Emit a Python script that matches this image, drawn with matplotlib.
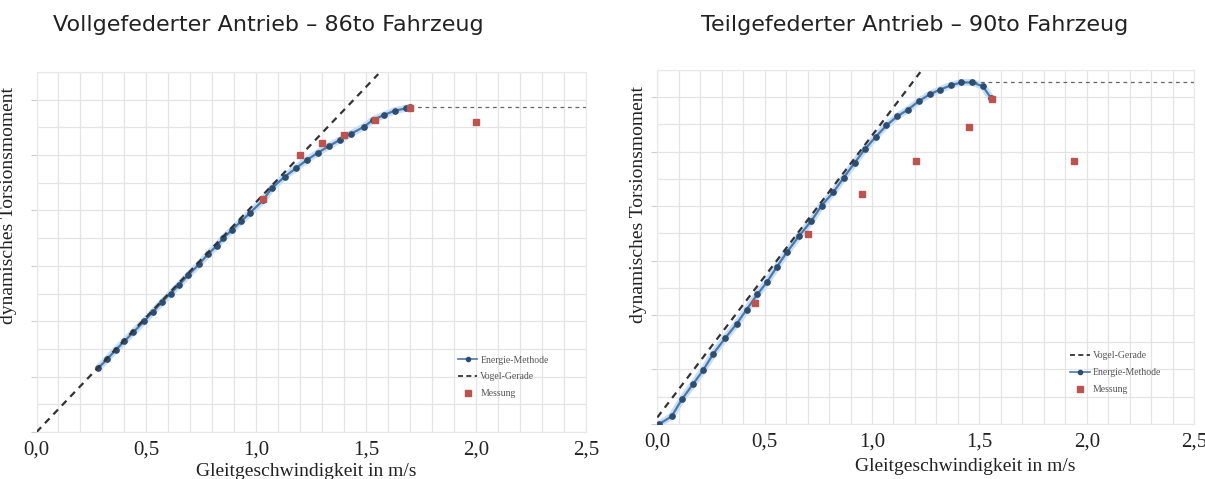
import matplotlib
matplotlib.use("Agg")
import matplotlib.pyplot as plt
from matplotlib.ticker import MultipleLocator, FuncFormatter
from matplotlib.lines import Line2D

# --- Data ---
# Left: Vollgefederter Antrieb - 86to Fahrzeug
left_energie_x = [0.28, 0.32, 0.36, 0.40, 0.44, 0.49, 0.53, 0.57, 0.61, 0.65, 0.69,
                  0.74, 0.78, 0.82, 0.85, 0.89, 0.93, 0.97, 1.03, 1.07, 1.13, 1.18,
                  1.23, 1.28, 1.33, 1.38, 1.43, 1.49, 1.53, 1.58, 1.63, 1.68, 1.70]
left_energie_y = [1.15, 1.31, 1.48, 1.64, 1.80, 2.00, 2.17, 2.34, 2.50, 2.66, 2.83,
                  3.03, 3.21, 3.36, 3.50, 3.65, 3.80, 3.95, 4.18, 4.40, 4.61, 4.76,
                  4.91, 5.04, 5.16, 5.27, 5.38, 5.51, 5.63, 5.72, 5.80, 5.84, 5.86]
left_vogel_x = [0.0, 1.555]
left_vogel_y = [0.0, 6.46]
left_mess_x = [1.03, 1.20, 1.30, 1.40, 1.54, 1.70, 2.00]
left_mess_y = [4.20, 5.00, 5.21, 5.36, 5.64, 5.84, 5.60]
left_limit_x = [1.70, 2.50]
left_limit_y = [5.87, 5.87]

# Right: Teilgefederter Antrieb - 90to Fahrzeug
right_energie_x = [0.01, 0.067, 0.114, 0.168, 0.214, 0.261, 0.315, 0.37, 0.416, 0.466,
                   0.51, 0.556, 0.603, 0.66, 0.718, 0.765, 0.819, 0.868, 0.92, 0.966,
                   1.017, 1.067, 1.118, 1.167, 1.219, 1.268, 1.318, 1.369, 1.416, 1.467,
                   1.516, 1.555]
right_energie_y = [0.0, 0.14, 0.45, 0.74, 0.99, 1.29, 1.57, 1.84, 2.10, 2.38,
                   2.60, 2.88, 3.15, 3.45, 3.73, 4.01, 4.25, 4.52, 4.80, 5.04,
                   5.27, 5.48, 5.65, 5.77, 5.93, 6.05, 6.14, 6.22, 6.27, 6.27,
                   6.20, 5.98]
right_vogel_x = [0.0, 1.225]
right_vogel_y = [0.12, 6.46]
right_mess_x = [0.454, 0.703, 0.955, 1.206, 1.454, 1.56, 1.943]
right_mess_y = [2.22, 3.49, 4.23, 4.82, 5.46, 5.97, 4.82]
right_limit_x = [1.47, 2.52]
right_limit_y = [6.28, 6.28]

titles = ["Vollgefederter Antrieb \u2013 86to Fahrzeug",
          "Teilgefederter Antrieb \u2013 90to Fahrzeug"]
xlabel = "Gleitgeschwindigkeit in m/s"
ylabel = "dynamisches Torsionsmoment"

line_blue = "#4a78ad"
halo_blue = "#c9def2"
marker_blue = "#2c4d72"
mess_red = "#bd534f"
grid_col = "#e4e4e4"
serif = "Liberation Serif"


def style_axes(ax):
    ax.set_xlim(0, 2.5)
    ax.set_ylim(0, 6.5)
    ax.xaxis.set_major_locator(MultipleLocator(0.5))
    ax.xaxis.set_minor_locator(MultipleLocator(0.1))
    ax.yaxis.set_major_locator(MultipleLocator(1.0))
    ax.yaxis.set_minor_locator(MultipleLocator(0.5))
    ax.xaxis.set_major_formatter(FuncFormatter(lambda v, p: f"{v:.1f}".replace(".", ",")))
    ax.yaxis.set_major_formatter(FuncFormatter(lambda v, p: ""))
    ax.grid(which="both", color=grid_col, linewidth=0.9)
    ax.set_axisbelow(True)
    for s in ax.spines.values():
        s.set_color("#e8e8e8")
    ax.tick_params(axis="x", which="both", length=0, pad=6, labelsize=15,
                   labelcolor="#222222")
    ax.tick_params(axis="y", which="major", length=4, color="#cccccc", width=0.8)
    ax.tick_params(axis="y", which="minor", length=0)
    for lab in ax.get_xticklabels():
        lab.set_fontfamily(serif)
    ax.set_xlabel(xlabel, family=serif, fontsize=14, color="#222222", labelpad=1)
    ax.set_ylabel(ylabel, family=serif, fontsize=14, color="#222222")


def draw_energie(ax, x, y):
    ax.plot(x, y, color=halo_blue, lw=5, solid_capstyle="round", zorder=2)
    ax.plot(x, y, color=line_blue, lw=1.6, marker="o", ms=3.8,
            mfc=marker_blue, mec=marker_blue, zorder=3)


fig = plt.figure(figsize=(12.05, 4.79), dpi=100)
ax1 = fig.add_axes([0.0303, 0.098, 0.456, 0.752])
ax2 = fig.add_axes([0.5455, 0.115, 0.4454, 0.739])

# left chart
style_axes(ax1)
draw_energie(ax1, left_energie_x, left_energie_y)
ax1.plot(left_vogel_x, left_vogel_y, color="#333333", lw=1.6, ls=(0, (3, 2.5)), zorder=4)
ax1.plot(left_limit_x, left_limit_y, color="#666666", lw=0.9, ls=(0, (3, 3)), zorder=2,
         clip_on=False)
ax1.plot(left_mess_x, left_mess_y, ls="none", marker="s", ms=5, color=mess_red, zorder=5)
ax1.yaxis.set_label_coords(-0.035, 0.63)
ax1.xaxis.set_label_coords(0.49, -0.085)

h_energie = Line2D([], [], color=line_blue, lw=1.2, marker="o", ms=3,
                   mfc=marker_blue, mec=marker_blue)
h_vogel = Line2D([], [], color="#222222", lw=1.2, ls=(0, (3, 2)))
h_mess = Line2D([], [], ls="none", marker="s", ms=4, color=mess_red)
leg_font = {"family": serif, "size": 7}
ax1.legend([h_energie, h_vogel, h_mess], ["Energie-Methode", "Vogel-Gerade", "Messung"],
           loc="lower right", bbox_to_anchor=(0.948, 0.07), frameon=False,
           prop=leg_font, handlelength=2.0, labelspacing=0.8, handletextpad=0.3,
           labelcolor="#555555")

# right chart
style_axes(ax2)
draw_energie(ax2, right_energie_x, right_energie_y)
ax2.plot(right_vogel_x, right_vogel_y, color="#333333", lw=1.6, ls=(0, (3, 2.5)), zorder=4)
ax2.plot(right_limit_x, right_limit_y, color="#666666", lw=0.9, ls=(0, (3, 3)), zorder=2,
         clip_on=False)
ax2.plot(right_mess_x, right_mess_y, ls="none", marker="s", ms=5, color=mess_red, zorder=5)
ax2.yaxis.set_label_coords(-0.02, 0.62)
ax2.xaxis.set_label_coords(0.574, -0.095)
ax2.legend([h_vogel, h_energie, h_mess], ["Vogel-Gerade", "Energie-Methode", "Messung"],
           loc="lower right", bbox_to_anchor=(0.955, 0.06), frameon=False,
           prop=leg_font, handlelength=2.0, labelspacing=0.8, handletextpad=0.3,
           labelcolor="#555555")

fig.text(0.223, 0.948, titles[0], ha="center", va="center", fontsize=16,
         family="DejaVu Sans", color="#222222")
fig.text(0.759, 0.948, titles[1], ha="center", va="center", fontsize=16,
         family="DejaVu Sans", color="#222222")

fig.savefig("out.png", dpi=100)
